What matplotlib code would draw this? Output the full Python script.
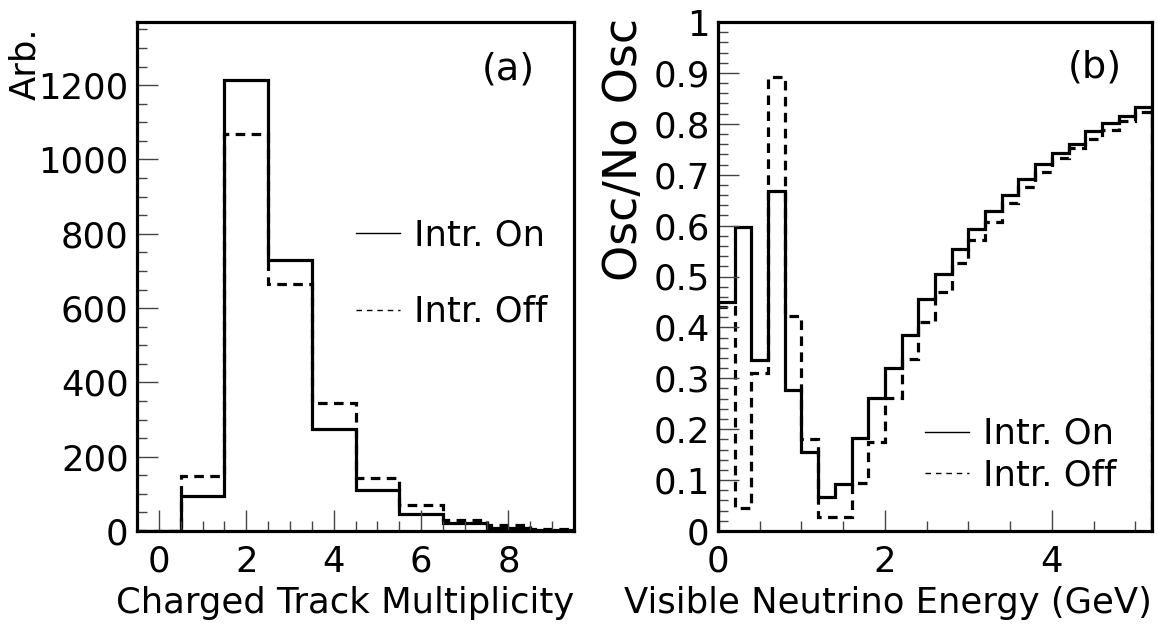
import numpy as np
import matplotlib
matplotlib.use("Agg")
import matplotlib.pyplot as plt
from matplotlib.lines import Line2D

# (a) charged track multiplicity, one bin per integer
mult_edges = np.arange(-0.5, 10.5, 1.0)
mult_on = [0, 95, 1213, 730, 274, 110, 45, 22, 9, 3]
mult_off = [0, 148, 1069, 665, 344, 142, 69, 29, 15, 5]

# (b) osc / no osc ratio vs visible energy, 0.2 GeV bins
energy_edges = np.round(np.arange(0.0, 5.21, 0.2), 2)
ratio_on = [0.449, 0.597, 0.335, 0.667, 0.277, 0.155, 0.067, 0.092, 0.182, 0.261,
            0.320, 0.386, 0.456, 0.505, 0.555, 0.593, 0.629, 0.661, 0.692, 0.721,
            0.743, 0.760, 0.785, 0.801, 0.816, 0.833]
ratio_off = [0.440, 0.045, 0.310, 0.891, 0.422, 0.180, 0.027, 0.027, 0.094, 0.174,
             0.262, 0.338, 0.410, 0.470, 0.527, 0.572, 0.608, 0.645, 0.676, 0.706,
             0.733, 0.752, 0.770, 0.787, 0.805, 0.824]

FS = 25.5
DASH = (0, (3, 2))
plt.rcParams['font.family'] = ['DejaVu Sans']

fig = plt.figure(figsize=(11.58, 6.26), dpi=100)
ax_a = fig.add_axes([137 / 1158, 95 / 626, 437 / 1158, 509 / 626])
ax_b = fig.add_axes([718 / 1158, 95 / 626, 434 / 1158, 509 / 626])


def style_axis(ax):
    for sp in ax.spines.values():
        sp.set_linewidth(2.3)
    ax.tick_params(which='both', direction='in', top=False, right=False,
                   width=1.0, color='#444444', labelsize=FS)
    ax.tick_params(which='major', length=15, pad=6)
    ax.tick_params(which='minor', length=7)
    ax.tick_params(axis='x', which='both', pad=10)


def legend_handles():
    return [Line2D([], [], color='k', lw=1.0, linestyle='-'),
            Line2D([], [], color='k', lw=1.0, linestyle=(0, (4, 3.5)))]


# ---- panel (a)
ax_a.stairs(mult_on, mult_edges, baseline=0, color='k', lw=2.3)
ax_a.stairs(mult_off, mult_edges, baseline=0, color='k', lw=2.3, linestyle=DASH)
ax_a.set_xlim(-0.5, 9.5)
ax_a.set_ylim(0, 1370)
ax_a.set_xticks([0, 2, 4, 6, 8])
ax_a.set_xticks(np.arange(-0.5, 9.6, 0.5), minor=True)
ax_a.set_yticks(np.arange(0, 1201, 200))
ax_a.set_yticks(np.arange(0, 1351, 50), minor=True)
style_axis(ax_a)
ax_a.set_xlabel('Charged Track Multiplicity', fontsize=FS, labelpad=5, loc='right')
ax_a.text(-0.256, 0.99, 'Arb.', rotation=90, ha='center', va='top',
          fontsize=FS, transform=ax_a.transAxes)
ax_a.text(0.849, 0.906, '(a)', ha='center', va='center', fontsize=FS + 2,
          transform=ax_a.transAxes)
ax_a.legend(legend_handles(), ['Intr. On', 'Intr. Off'], loc='upper left',
            bbox_to_anchor=(0.50, 0.614), frameon=False, fontsize=FS,
            handlelength=1.25, handletextpad=0.4, labelspacing=1.2,
            borderpad=0, borderaxespad=0)

# ---- panel (b)
ax_b.stairs(ratio_on, energy_edges, baseline=0, color='k', lw=2.3)
ax_b.stairs(ratio_off, energy_edges, baseline=0, color='k', lw=2.3, linestyle=DASH)
ax_b.set_xlim(0, 5.2)
ax_b.set_ylim(0, 1)
ax_b.set_xticks([0, 2, 4])
ax_b.set_xticks(np.arange(0, 5.21, 0.5), minor=True)
ax_b.set_yticks(np.round(np.arange(0, 1.01, 0.1), 1))
ax_b.set_yticklabels(['0', '0.1', '0.2', '0.3', '0.4', '0.5', '0.6', '0.7',
                      '0.8', '0.9', '1'])
ax_b.set_yticks(np.arange(0, 1.001, 0.02), minor=True)
style_axis(ax_b)
ax_b.set_xlabel('Visible Neutrino Energy (GeV)', fontsize=FS, labelpad=5, loc='right')
ax_b.text(-0.216, 1.008, 'Osc/No Osc', rotation=90, ha='center', va='top',
          fontsize=33, transform=ax_b.transAxes)
ax_b.text(0.869, 0.91, '(b)', ha='center', va='center', fontsize=FS + 2,
          transform=ax_b.transAxes)
ax_b.legend(legend_handles(), ['Intr. On', 'Intr. Off'], loc='upper left',
            bbox_to_anchor=(0.477, 0.224), frameon=False, fontsize=FS,
            handlelength=1.25, handletextpad=0.4, labelspacing=0.22,
            borderpad=0, borderaxespad=0)

fig.savefig('out.png', dpi=100)
